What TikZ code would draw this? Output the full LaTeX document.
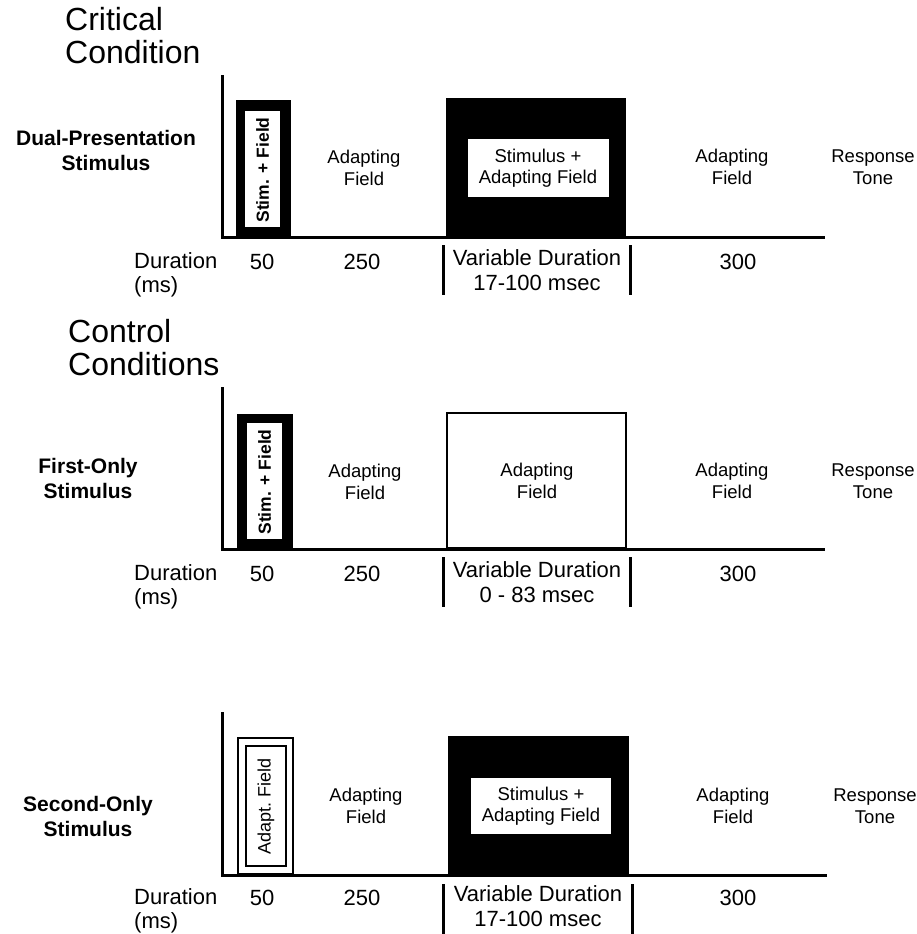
\documentclass[tikz,border=0pt]{standalone}
\usepackage{fontspec}
\setmainfont{Liberation Sans}
\usetikzlibrary{positioning}
\tikzset{
  axisline/.style={line width=3pt},
  durbar/.style={line width=3pt},
  heading/.style={align=left, anchor=north west, inner sep=0pt, font=\fontsize{32}{33}\selectfont},
  condlabel/.style={align=center, inner sep=0pt, font=\bfseries\fontsize{21}{25}\selectfont},
  fieldtext/.style={align=center, inner sep=0pt, font=\fontsize{18.5}{21.5}\selectfont},
  durtext/.style={align=center, inner sep=0pt, font=\fontsize{22}{24.5}\selectfont},
  sidetext/.style={rotate=90, inner sep=0pt, font=\fontsize{18}{18}\selectfont},
  stimtext/.style={rotate=90, inner sep=0pt, font=\bfseries\fontsize{17.5}{18}\selectfont},
  thinbox/.style={draw=black, line width=1.6pt}
}
\begin{document}
\begin{tikzpicture}[x=1pt, y=-1pt]
\useasboundingbox (0,0) rectangle (917,934);
% critical condition
\node[heading] (crithead) at (65,7) {Critical\\Condition};
\node[condlabel] (dualstim) at (106,150) {Dual-Presentation\\Stimulus};
\draw[axisline] (222,75) -- (222,237.5) -- (825,237.5);
\fill (236,100) rectangle (291,236);
\fill[white] (245,111) rectangle (280,227);
\node[stimtext] (dualfirst) at (262.5,170) {Stim. + Field};
\node[fieldtext] (dualgap) at (364,168) {Adapting\\Field};
\fill (446,98) rectangle (626,236);
\fill[white] (468,139) rectangle (609,197);
\node[fieldtext] (dualsecond) at (538,168) {Stimulus +\\Adapting Field};
\node[fieldtext] (dualafter) at (732,167) {Adapting\\Field};
\node[fieldtext] (dualtone) at (873,167) {Response\\Tone};
\node[durtext, align=left, anchor=west] (dualdur) at (134,275) {Duration\\(ms)};
\node[durtext] (dualfifty) at (262,262) {50};
\node[durtext] (dualgapms) at (362,262) {250};
\node[durtext] (dualvar) at (537,270) {Variable Duration\\17-100 msec};
\node[durtext] (dualafterms) at (738,262) {300};
\draw[durbar] (443,245) -- (443,295);
\draw[durbar] (630,245) -- (630,295);
% control conditions
\node[heading] (ctrlhead) at (68,319) {Control\\Conditions};
\node[condlabel] (firststim) at (88,478) {First-Only\\Stimulus};
\draw[axisline] (222,387) -- (222,549.5) -- (825,549.5);
\fill (237,414) rectangle (293,548);
\fill[white] (247,423) rectangle (282,539);
\node[stimtext] (firstfirst) at (264.5,482) {Stim. + Field};
\node[fieldtext] (firstgap) at (365,482) {Adapting\\Field};
\draw[thinbox] (447,413) rectangle (626,548);
\node[fieldtext] (firstsecond) at (537,481) {Adapting\\Field};
\node[fieldtext] (firstafter) at (732,481) {Adapting\\Field};
\node[fieldtext] (firsttone) at (873,481) {Response\\Tone};
\node[durtext, align=left, anchor=west] (firstdur) at (134,587) {Duration\\(ms)};
\node[durtext] (firstfifty) at (262,574) {50};
\node[durtext] (firstgapms) at (362,574) {250};
\node[durtext] (firstvar) at (537,582) {Variable Duration\\0 - 83 msec};
\node[durtext] (firstafterms) at (738,574) {300};
\draw[durbar] (443,557) -- (443,607);
\draw[durbar] (630,557) -- (630,607);
% second only
\node[condlabel] (secondstim) at (88,816) {Second-Only\\Stimulus};
\draw[axisline] (222,712) -- (222,875.5) -- (827,875.5);
\draw[thinbox, line width=1.2pt] (238,738) rectangle (293,874);
\draw[thinbox, line width=2pt] (246,746) rectangle (286,866);
\node[sidetext] (secondfirst) at (266,806) {Adapt.\ Field};
\node[fieldtext] (secondgap) at (366,806) {Adapting\\Field};
\fill (448,736) rectangle (629,874);
\fill[white] (471,778) rectangle (611,834);
\node[fieldtext] (secondsecond) at (541,806) {Stimulus +\\Adapting Field};
\node[fieldtext] (secondafter) at (733,806) {Adapting\\Field};
\node[fieldtext] (secondtone) at (875,806) {Response\\Tone};
\node[durtext, align=left, anchor=west] (seconddur) at (134,911) {Duration\\(ms)};
\node[durtext] (secondfifty) at (262,898) {50};
\node[durtext] (secondgapms) at (362,898) {250};
\node[durtext] (secondvar) at (538,906) {Variable Duration\\17-100 msec};
\node[durtext] (secondafterms) at (738,898) {300};
\draw[durbar] (443,884) -- (443,934);
\draw[durbar] (632,884) -- (632,934);
\end{tikzpicture}
\end{document}
